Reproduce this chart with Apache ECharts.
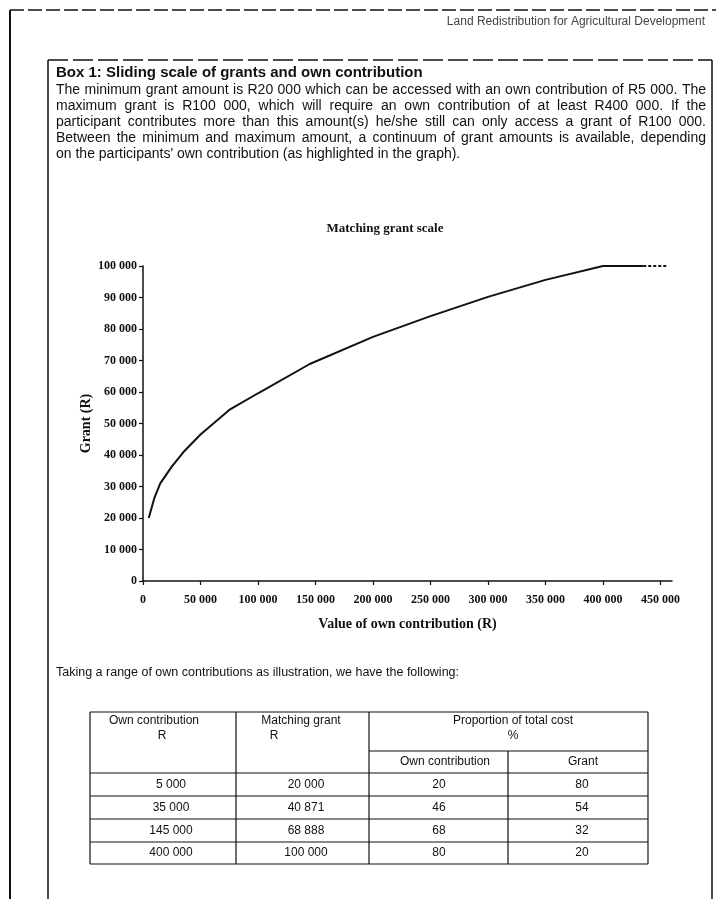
<!DOCTYPE html>
<html>
<head>
<meta charset="utf-8">
<script src="https://cdn.jsdelivr.net/npm/echarts@6/dist/echarts.min.js"></script>
<style>
  html, body { margin: 0; background: #fff; }
  #chart { width: 716px; height: 899px; }
</style>
</head>
<body>
<div id="chart"></div>
<script>
// curve (own contribution R -> grant R)
const contribution = [5000, 10000, 15000, 25000, 35000, 50000, 75000, 100000, 145000, 200000, 250000, 300000, 350000, 400000, 435000];
const grant = [20000, 26500, 31000, 36300, 40871, 46500, 54300, 59600, 68888, 77500, 84100, 90200, 95600, 100000, 100000];
// dotted continuation of the cap
const capContribution = [435000, 456000];
const capGrant = [100000, 100000];

const xTicks = [0, 50000, 100000, 150000, 200000, 250000, 300000, 350000, 400000, 450000];
const yTicks = [0, 10000, 20000, 30000, 40000, 50000, 60000, 70000, 80000, 90000, 100000];

// table
const tableOwn = [5000, 35000, 145000, 400000];
const tableGrant = [20000, 40871, 68888, 100000];
const tableOwnPct = [20, 46, 68, 80];
const tableGrantPct = [80, 54, 32, 20];

const paragraph = [
  'The minimum grant amount is R20 000 which can be accessed with an own contribution of R5 000. The',
  'maximum grant is R100 000, which will require an own contribution of at least R400 000. If the',
  'participant contributes more than this amount(s) he/she still can only access a grant of R100 000.',
  'Between the minimum and maximum amount, a continuum of grant amounts is available, depending',
  'on the participants\' own contribution (as highlighted in the graph).'
];

const fmt = v => String(v).replace(/\B(?=(\d{3})+(?!\d))/g, ' ');
const sans = '"Liberation Sans", Arial, sans-serif';
const serif = '"Liberation Serif", "Times New Roman", serif';

const chart = echarts.init(document.getElementById('chart'));

// justified text, one word at a time
const ctx = document.createElement('canvas').getContext('2d');
function naturalWidth(line, size) {
  ctx.font = size + 'px ' + sans;
  return ctx.measureText(line).width;
}
function textLine(line, y, x0, x1, size, last) {
  ctx.font = size + 'px ' + sans;
  const words = line.split(' ');
  const widths = words.map(w => ctx.measureText(w).width);
  const total = widths.reduce((a, b) => a + b, 0);
  const gap = last ? ctx.measureText(' ').width : (x1 - x0 - total) / (words.length - 1);
  let x = x0;
  return words.map((w, i) => {
    const el = {
      type: 'text', x: x, y: y,
      style: { text: w, fontSize: size, fontFamily: sans, fill: '#111', verticalAlign: 'middle' }
    };
    x += widths[i] + gap;
    return el;
  });
}
// biggest size where the longest line still fits the box
let paraSize = 14;
while (paraSize > 10 && Math.max(...paragraph.map(l => naturalWidth(l, paraSize))) > 648) paraSize -= 0.25;

function hline(x1, x2, y, w, dash) {
  return { type: 'line', shape: { x1: x1, y1: y, x2: x2, y2: y }, style: { stroke: '#111', lineWidth: w || 1, lineDash: dash || null } };
}
function vline(x, y1, y2, w) {
  return { type: 'line', shape: { x1: x, y1: y1, x2: x, y2: y2 }, style: { stroke: '#111', lineWidth: w || 1 } };
}
function cell(text, x, y) {
  return { type: 'text', x: x, y: y, style: { text: text, fontSize: 12, fontFamily: sans, fill: '#111', align: 'center', verticalAlign: 'middle' } };
}

const graphics = [];
// page frame
graphics.push(vline(10, 10, 899, 2));
graphics.push(hline(10, 716, 10, 1.5, [14, 4]));
graphics.push(vline(48, 60, 899, 1.5));
graphics.push(vline(712, 60, 899, 1.5));
graphics.push(hline(48, 712, 60, 1.5, [20, 5]));
graphics.push({
  type: 'text', x: 705, y: 22,
  style: { text: 'Land Redistribution for Agricultural Development', fontSize: 12, fontFamily: sans, fill: '#444', align: 'right', verticalAlign: 'middle' }
});
graphics.push({
  type: 'text', x: 56, y: 73,
  style: { text: 'Box 1: Sliding scale of grants and own contribution', fontSize: 15, fontWeight: 'bold', fontFamily: sans, fill: '#111', verticalAlign: 'middle' }
});
paragraph.forEach((line, i) => {
  textLine(line, 90 + i * 16, 56, 706, paraSize, i === paragraph.length - 1).forEach(el => graphics.push(el));
});
graphics.push({
  type: 'text', x: 56, y: 673,
  style: { text: 'Taking a range of own contributions as illustration, we have the following:', fontSize: 12.5, fontFamily: sans, fill: '#111', verticalAlign: 'middle' }
});

// table grid
const cols = [90, 236, 369, 508, 648];
const rows = [712, 751, 773, 796, 819, 842, 864];
graphics.push(hline(cols[0], cols[4], rows[0], 1.2));
graphics.push(hline(cols[2], cols[4], rows[1], 1.2));
for (let r = 2; r < rows.length; r++) graphics.push(hline(cols[0], cols[4], rows[r], 1.2));
graphics.push(vline(cols[0], rows[0], rows[6], 1.2));
graphics.push(vline(cols[1], rows[0], rows[6], 1.2));
graphics.push(vline(cols[2], rows[0], rows[6], 1.2));
graphics.push(vline(cols[3], rows[1], rows[6], 1.2));
graphics.push(vline(cols[4], rows[0], rows[6], 1.2));
graphics.push(cell('Own contribution', 154, 721));
graphics.push(cell('R', 162, 736));
graphics.push(cell('Matching grant', 301, 721));
graphics.push(cell('R', 274, 736));
graphics.push(cell('Proportion of total cost', 513, 721));
graphics.push(cell('%', 513, 736));
graphics.push(cell('Own contribution', 445, 762));
graphics.push(cell('Grant', 583, 762));
tableOwn.forEach((v, i) => {
  const y = (rows[i + 2] + rows[i + 3]) / 2;
  graphics.push(cell(fmt(v), 171, y));
  graphics.push(cell(fmt(tableGrant[i]), 306, y));
  graphics.push(cell(String(tableOwnPct[i]), 439, y));
  graphics.push(cell(String(tableGrantPct[i]), 582, y));
});

const axisText = { fontSize: 12, fontWeight: 'bold', fontFamily: serif, color: '#111' };

const option = {
  animation: false,
  backgroundColor: '#fff',
  title: {
    text: 'Matching grant scale',
    left: 380, top: 217, textAlign: 'center',
    textStyle: { fontSize: 13, fontWeight: 'bold', fontFamily: serif, color: '#111' }
  },
  grid: { left: 143, right: 44, top: 266, bottom: 318, containLabel: false, outerBoundsMode: 'none' },
  xAxis: {
    type: 'value', min: 0, max: 460000,
    name: 'Value of own contribution (R)', nameLocation: 'middle', nameGap: 36,
    nameTextStyle: { fontSize: 14, fontWeight: 'bold', fontFamily: serif, color: '#111' },
    axisLine: { lineStyle: { color: '#111', width: 1.5 } },
    axisTick: { customValues: xTicks, length: 4, lineStyle: { color: '#111', width: 1.2 } },
    axisLabel: Object.assign({ customValues: xTicks, margin: 13, formatter: fmt }, axisText),
    splitLine: { show: false }
  },
  yAxis: {
    type: 'value', min: 0, max: 100000, interval: 10000,
    name: 'Grant (R)', nameLocation: 'middle', nameGap: 50, nameRotate: 90, nameMoveOverlap: false,
    nameTextStyle: { fontSize: 14, fontWeight: 'bold', fontFamily: serif, color: '#111' },
    axisLine: { show: true, lineStyle: { color: '#111', width: 1.5 } },
    axisTick: { show: true, length: 4, lineStyle: { color: '#111', width: 1.2 } },
    axisLabel: Object.assign({ customValues: yTicks, margin: 6, formatter: fmt }, axisText),
    splitLine: { show: false }
  },
  series: [
    {
      type: 'line', symbol: 'none',
      lineStyle: { color: '#111', width: 2 },
      data: contribution.map((c, i) => [c, grant[i]])
    },
    {
      type: 'line', symbol: 'none',
      lineStyle: { color: '#111', width: 2, type: [3, 2] },
      data: capContribution.map((c, i) => [c, capGrant[i]])
    }
  ],
  graphic: graphics
};
chart.setOption(option);
</script>
</body>
</html>
